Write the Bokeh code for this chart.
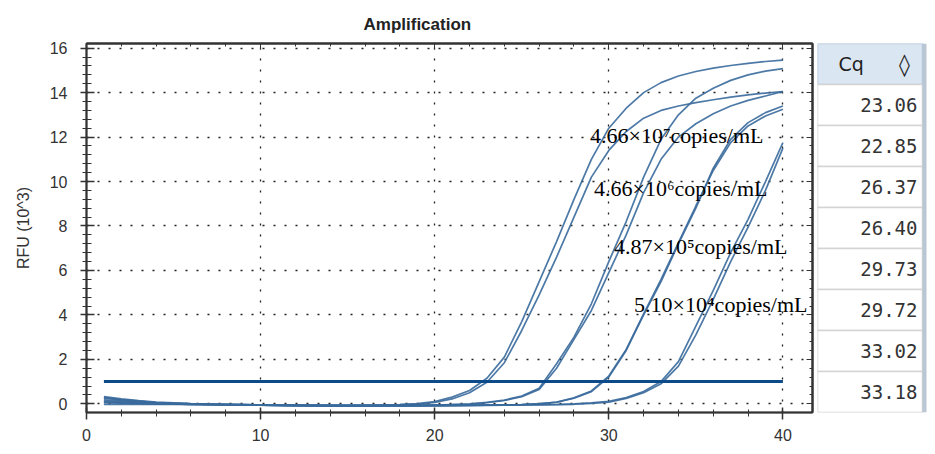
from bokeh.plotting import figure
from bokeh.layouts import row
from bokeh.models import LinearAxis, SingleIntervalTicker, ColumnDataSource, Range1d, CustomJSTickFormatter
from bokeh.core.properties import value
from bokeh.embed import file_html
from bokeh.resources import INLINE

# amplification curves, RFU in 10^3, one value per cycle (1..40)
cycles = list(range(1, 41))

rfu_a = [0.32, 0.22, 0.14, 0.08, 0.04, 0.01, -0.01,
         -0.03, -0.04, -0.05, -0.06, -0.07, -0.07, -0.07, -0.07, -0.06, -0.05, -0.03,
         0.01, 0.1, 0.3, 0.6, 1.15, 2.1, 3.7, 5.5, 7.3, 9.2, 11.0, 12.4, 13.3, 14.0,
         14.45, 14.75, 14.95, 15.1, 15.22, 15.32, 15.4, 15.46]
rfu_b = [0.25, 0.17, 0.10, 0.05, 0.02, 0.00, -0.02,
         -0.03, -0.05, -0.06, -0.07, -0.08, -0.08, -0.08, -0.08, -0.07, -0.06, -0.04,
         -0.01, 0.06, 0.22, 0.5, 0.97, 1.85, 3.3, 4.9, 6.6, 8.4, 10.2, 11.4, 12.25, 12.85,
         13.2, 13.4, 13.55, 13.68, 13.8, 13.9, 13.98, 14.05]
rfu_c = [0.18, 0.12, 0.07, 0.03, 0.01, -0.01, -0.02,
         -0.03, -0.04, -0.05, -0.06, -0.07, -0.07, -0.08, -0.08, -0.08, -0.07, -0.07, -0.06, -0.05, -0.03,
         0.0, 0.07, 0.17, 0.35, 0.7, 1.8, 3.0, 4.5, 6.4, 8.2, 10.2, 11.9, 13.0,
         13.75, 14.2, 14.55, 14.8, 14.97, 15.08]
rfu_d = [0.12, 0.08, 0.04, 0.02, 0.00, -0.02, -0.03,
         -0.04, -0.05, -0.06, -0.07, -0.08, -0.08, -0.09, -0.09, -0.09, -0.08, -0.08, -0.07, -0.06, -0.04,
         -0.02, 0.05, 0.15, 0.32, 0.65, 1.6, 2.9, 4.2, 5.9, 7.6, 9.5, 11.0, 12.0,
         12.6, 13.05, 13.4, 13.65, 13.85, 14.05]
rfu_e = [0.05, 0.03, 0.01, 0.00, -0.01, -0.02, -0.03,
         -0.04, -0.05, -0.06, -0.06, -0.07, -0.07, -0.08, -0.08, -0.08, -0.08, -0.08, -0.08,
         -0.07, -0.07, -0.06, -0.06, -0.05,
         -0.03, 0.01, 0.07, 0.25, 0.55, 1.2, 2.4, 4.0, 5.5, 7.2, 8.8, 10.6, 11.9,
         12.65, 13.1, 13.4]
rfu_f = [-0.02, -0.02, -0.03, -0.03, -0.03, -0.03, -0.04,
         -0.05, -0.05, -0.06, -0.07, -0.07, -0.08, -0.08, -0.09, -0.09, -0.09, -0.09, -0.08,
         -0.08, -0.07, -0.07, -0.06, -0.05,
         -0.04, 0.0, 0.08, 0.27, 0.58, 1.25, 2.45, 4.05, 5.6, 7.25, 8.9, 10.5, 11.75,
         12.5, 12.95, 13.25]
rfu_g = [0.28, 0.19, 0.12, 0.06, 0.03, 0.00, -0.02,
         -0.03, -0.04, -0.05, -0.06, -0.06, -0.07, -0.07, -0.07, -0.08, -0.08, -0.08, -0.08, -0.08,
         -0.07, -0.07, -0.06, -0.06, -0.05, -0.04, -0.03,
         0.0, 0.04, 0.11, 0.28, 0.55, 1.0, 1.9, 3.5, 5.1, 6.8, 8.3, 10.0, 11.75]
rfu_h = [0.08, 0.05, 0.03, 0.01, 0.00, -0.02, -0.03,
         -0.04, -0.05, -0.06, -0.07, -0.07, -0.08, -0.08, -0.08, -0.09, -0.09, -0.09, -0.09, -0.08,
         -0.08, -0.07, -0.07, -0.06, -0.05, -0.05, -0.04,
         -0.02, 0.02, 0.08, 0.24, 0.5, 0.9, 1.7, 3.1, 4.7, 6.4, 7.95, 9.6, 11.5]
curves = [rfu_a, rfu_b, rfu_c, rfu_d, rfu_e, rfu_f, rfu_g, rfu_h]

threshold = 1.0

cq_values = ["23.06", "22.85", "26.37", "26.40", "29.73", "29.72", "33.02", "33.18"]

conc_labels = ["4.66×10⁷copies/mL", "4.66×10⁶copies/mL",
               "4.87×10⁵copies/mL", "5.10×10⁴copies/mL"]
label_x = [28.92, 29.15, 30.3, 31.45]
label_y = [12.08, 9.69, 7.08, 4.47]

AX = "#333333"

p = figure(width=817, height=450, x_range=(0, 41.7), y_range=(-0.39, 16.21),
           output_backend="svg", toolbar_location=None, title="Amplification",
           min_border_left=86, min_border_right=5, min_border_top=43, min_border_bottom=38)
p.title.text_font = "Liberation Sans"
p.title.text_font_size = "17px"
p.title.text_font_style = "bold"
p.title.text_color = "#222222"
p.title.align = "left"
p.title.offset = 277
p.title.standoff = 20

xt = SingleIntervalTicker(interval=10, num_minor_ticks=5)
yt = SingleIntervalTicker(interval=2, num_minor_ticks=5)
p.xaxis.ticker = xt
p.yaxis.ticker = yt
p.yaxis.axis_label = "RFU (10^3)"

for ax in (p.xaxis[0], p.yaxis[0]):
    ax.axis_line_color = AX
    ax.axis_line_width = 1.5
    ax.major_tick_line_color = AX
    ax.minor_tick_line_color = AX
    ax.major_tick_line_width = 1.5
    ax.major_label_text_font = "Liberation Sans"
    ax.major_label_text_font_size = "16px"
    ax.major_label_text_color = "#333333"
    ax.axis_label_text_font = "Liberation Sans"
    ax.axis_label_text_font_size = "16px"
    ax.axis_label_text_font_style = "normal"
    ax.axis_label_text_color = "#333333"

p.xaxis.major_tick_in = 5
p.xaxis.major_tick_out = 7
p.xaxis.minor_tick_in = 3
p.xaxis.minor_tick_out = 4
p.xaxis.major_label_standoff = 9
p.yaxis.major_tick_in = 8
p.yaxis.major_tick_out = 6
p.yaxis.minor_tick_in = 5
p.yaxis.minor_tick_out = 4
p.yaxis.major_label_standoff = 13
p.yaxis.axis_label_standoff = 15

# mirrored tick marks on top and right of the frame, without labels
no_labels = CustomJSTickFormatter(code="return ''")
top_ax = LinearAxis(ticker=SingleIntervalTicker(interval=10, num_minor_ticks=5), formatter=no_labels,
                    major_tick_in=6, major_tick_out=0, minor_tick_in=3, minor_tick_out=0,
                    major_label_standoff=0,
                    axis_line_color=AX, axis_line_width=2,
                    major_tick_line_color=AX, minor_tick_line_color=AX)
right_ax = LinearAxis(ticker=SingleIntervalTicker(interval=2, num_minor_ticks=5), formatter=no_labels,
                      major_tick_in=6, major_tick_out=0, minor_tick_in=3, minor_tick_out=0,
                      major_label_standoff=0,
                      axis_line_color=AX, axis_line_width=2,
                      major_tick_line_color=AX, minor_tick_line_color=AX)
p.add_layout(top_ax, "above")
p.add_layout(right_ax, "right")

p.xgrid.grid_line_color = "#222222"
p.ygrid.grid_line_color = "#222222"
p.xgrid.grid_line_dash = "2 9"
p.ygrid.grid_line_dash = "2 9"
p.xgrid.grid_line_width = 1.3
p.ygrid.grid_line_width = 1.3
p.outline_line_color = AX
p.outline_line_width = 2

for ys in curves:
    p.line(cycles, ys, line_color="#3a6a9c", line_width=1.7, line_alpha=0.9)

p.line([cycles[0], cycles[-1]], [threshold, threshold], line_color="#0c4a8a", line_width=3)

lab_src = ColumnDataSource(dict(x=label_x, y=label_y, text=conc_labels))
p.text(x="x", y="y", text="text", source=lab_src, text_font=value("Liberation Serif"),
       text_font_size="22px", text_color="black", text_baseline="middle", text_align="left")

# Cq table at the right, one row per curve; its frame is aligned with the chart's frame
n_rows = len(cq_values)
t = figure(width=110, height=450, x_range=(0, 110), y_range=Range1d(n_rows, -1),
           output_backend="svg", toolbar_location=None,
           x_axis_location=None, y_axis_location=None,
           min_border_left=0, min_border_right=0, min_border_top=0, min_border_bottom=0)
t.grid.visible = False
t.outline_line_color = None

rows_idx = list(range(n_rows))
t.quad(left=0, right=105, top=-1, bottom=0, fill_color="#dbe6f3", line_color="#b4c6dc", line_width=1.5)
t.quad(left=0, right=105, top=rows_idx, bottom=[i + 1 for i in rows_idx],
       fill_color="white", line_color="#d4d4d4", line_width=1.5)
t.quad(left=105, right=109, top=-1, bottom=n_rows, fill_color="#b9c6d4", line_color=None)
t.text(x=[21], y=[-0.5], text=["Cq"], text_font=value("DejaVu Sans"), text_font_size="19px",
       text_color="#222222", text_baseline="middle", text_align="left")
t.text(x=[87], y=[-0.5], text=["◊"], text_font=value("DejaVu Sans"), text_font_size="22px",
       text_color="#222222", text_baseline="middle", text_align="center")
cq_src = ColumnDataSource(dict(y=[i + 0.5 for i in rows_idx], text=cq_values))
t.text(x=100, y="y", text="text", source=cq_src, text_font=value("DejaVu Sans Mono"),
       text_font_size="19px", text_color="#333333", text_baseline="middle", text_align="right")

layout = row(p, t)
open("out.html", "w").write(file_html(layout, INLINE))
